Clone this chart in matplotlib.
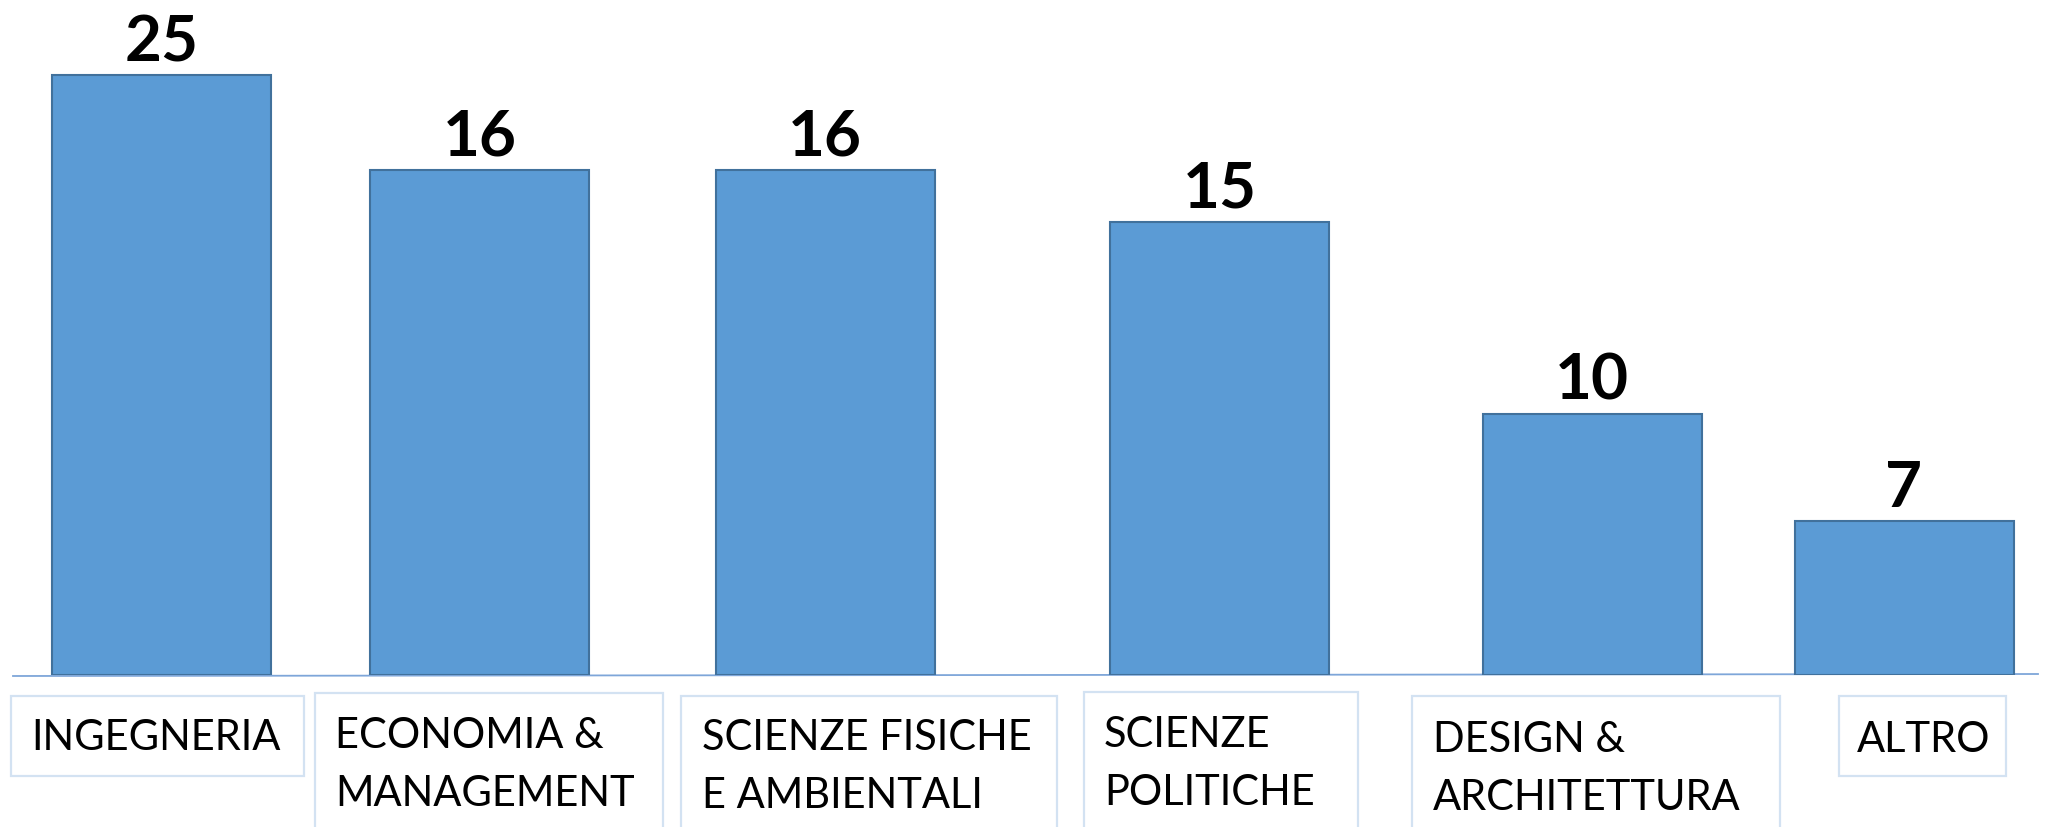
import matplotlib.pyplot as plt
from matplotlib.patches import Rectangle

# dati
categorie = ["INGEGNERIA", "ECONOMIA &\nMANAGEMENT", "SCIENZE FISICHE\nE AMBIENTALI",
             "SCIENZE\nPOLITICHE", "DESIGN &\nARCHITETTURA", "ALTRO"]
valori = [25, 16, 16, 15, 10, 7]
# le barre nel grafico originale non sono proporzionali ai valori: altezze lette a occhio (max = 100)
altezze = [100, 84.2, 84.2, 75.5, 43.5, 25.7]

W, H = 2046, 828
BASE = 676  # riga di base in pixel dall'alto
centri = [161.5, 479.5, 825, 1219.5, 1592, 1904]
larghezza = 219
# riquadri delle etichette (x0, y0, x1, y1) in pixel
riquadri = [(11, 697, 304, 777), (315, 694, 663, 845), (681, 697, 1057, 845),
            (1084, 693, 1358, 845), (1412, 697, 1780, 845), (1839, 697, 2006, 777)]
testo_x = [31, 335, 702, 1104, 1433, 1857]
testo_y = [750, 748, 750, 747, 752, 752]
INTERLINEA = 58

fig = plt.figure(figsize=(W / 100, H / 100), dpi=100)

# sfondo: linea di base e riquadri etichette
ax2 = fig.add_axes([0, 0, 1, 1])
ax2.set_xlim(0, W)
ax2.set_ylim(H, 0)
ax2.axis('off')
ax2.plot([13, 2038], [677, 675], color='#7ea6d9', lw=1.3)
for (x0, y0, x1, y1) in riquadri:
    ax2.add_patch(Rectangle((x0, y0), x1 - x0, y1 - y0, facecolor='white',
                            edgecolor='#d3e2f2', lw=1.6))
for lab, tx, ty in zip(categorie, testo_x, testo_y):
    for k, riga in enumerate(lab.split("\n")):
        ax2.text(tx, ty + k * INTERLINEA, riga, ha='left', va='baseline',
                 fontsize=30, family='Lato', color='black')

# barre
ax = fig.add_axes([0, (H - BASE) / H, 1, BASE / H])
ax.set_xlim(0, W)
ax.set_ylim(0, BASE / 6)
ax.axis('off')
ax.set_zorder(2)
bars = ax.bar(centri, altezze, width=larghezza, color='#5b9bd5',
              edgecolor='#41719c', linewidth=1.5)
for b, v in zip(bars, valori):
    ax.annotate(str(v), (b.get_x() + b.get_width() / 2, b.get_height()),
                xytext=(0, 15), textcoords='offset pixels', ha='center', va='baseline',
                fontsize=46, fontweight='bold', family='Lato', color='black')

plt.savefig("out.png", dpi=100)
